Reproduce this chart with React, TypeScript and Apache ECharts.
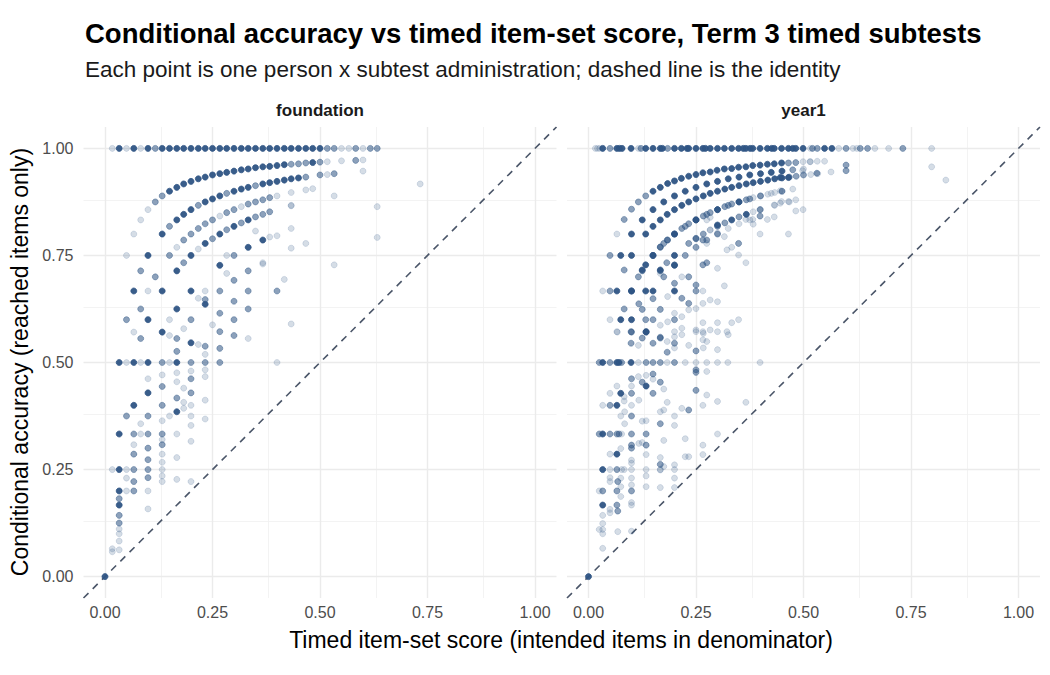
import React, { useEffect, useRef } from "react";
import * as echarts from "echarts";

// ---------- DATA ----------
// triples: [timed item-set score, conditional accuracy, overlap weight 1=light 2=medium 3=dark]
const foundationTopRow: [number, number, number][] = [
  [0.017, 1, 1], [0.033, 1, 3], [0.05, 1, 1], [0.067, 1, 3], [0.083, 1, 1], [0.1, 1, 3], [0.117, 1, 2],
  [0.133, 1, 3], [0.15, 1, 3], [0.167, 1, 3], [0.183, 1, 3], [0.2, 1, 3], [0.217, 1, 3], [0.233, 1, 3],
  [0.25, 1, 3], [0.267, 1, 3], [0.283, 1, 3], [0.3, 1, 3], [0.317, 1, 3], [0.333, 1, 3], [0.35, 1, 3],
  [0.367, 1, 3], [0.383, 1, 3], [0.4, 1, 3], [0.417, 1, 3], [0.433, 1, 3], [0.45, 1, 3], [0.467, 1, 3],
  [0.483, 1, 3], [0.5, 1, 3], [0.517, 1, 2], [0.533, 1, 2], [0.55, 1, 1], [0.567, 1, 1], [0.583, 1, 2],
  [0.6, 1, 1], [0.617, 1, 2], [0.633, 1, 2],
];

const foundationCurves: [number, number, number][] = [
  // one wrong
  [0.05, 0.75, 1], [0.067, 0.8, 1], [0.083, 0.833, 1], [0.1, 0.857, 1], [0.117, 0.875, 2], [0.133, 0.889, 2],
  [0.15, 0.9, 3], [0.167, 0.909, 3], [0.183, 0.917, 3], [0.2, 0.923, 3], [0.217, 0.929, 3], [0.233, 0.933, 3],
  [0.25, 0.938, 3], [0.267, 0.941, 3], [0.283, 0.944, 3], [0.3, 0.947, 3], [0.317, 0.95, 3], [0.333, 0.952, 3],
  [0.35, 0.955, 3], [0.367, 0.957, 3], [0.383, 0.958, 3], [0.4, 0.96, 3], [0.417, 0.962, 3], [0.433, 0.963, 2],
  [0.45, 0.964, 2], [0.467, 0.966, 2], [0.483, 0.967, 3], [0.5, 0.968, 2], [0.517, 0.969, 1], [0.55, 0.971, 1],
  [0.583, 0.972, 2], [0.6, 0.973, 1],
  // two wrong
  [0.067, 0.667, 3], [0.083, 0.714, 2], [0.1, 0.75, 3], [0.133, 0.8, 3], [0.15, 0.818, 2], [0.167, 0.833, 3],
  [0.183, 0.846, 3], [0.2, 0.857, 3], [0.217, 0.867, 2], [0.233, 0.875, 3], [0.25, 0.882, 3], [0.267, 0.889, 3],
  [0.283, 0.895, 2], [0.3, 0.9, 3], [0.317, 0.905, 3], [0.333, 0.909, 3], [0.35, 0.913, 2], [0.367, 0.917, 3],
  [0.383, 0.92, 3], [0.4, 0.923, 3], [0.417, 0.926, 3], [0.433, 0.929, 3], [0.45, 0.931, 3], [0.467, 0.933, 2],
  [0.5, 0.938, 2], [0.517, 0.939, 1], [0.533, 0.941, 2], [0.6, 0.947, 1],
  // three wrong
  [0.083, 0.625, 2], [0.1, 0.667, 1], [0.117, 0.7, 2], [0.15, 0.75, 2], [0.167, 0.769, 1], [0.183, 0.786, 2],
  [0.2, 0.8, 2], [0.217, 0.813, 2], [0.233, 0.824, 2], [0.25, 0.833, 2], [0.267, 0.842, 1], [0.283, 0.85, 2],
  [0.3, 0.857, 2], [0.317, 0.864, 1], [0.333, 0.87, 2], [0.35, 0.875, 2], [0.367, 0.88, 2], [0.383, 0.885, 2],
  [0.4, 0.889, 1], [0.433, 0.897, 1], [0.467, 0.903, 1], [0.483, 0.906, 1],
  // four wrong
  [0.1, 0.6, 3], [0.133, 0.667, 3], [0.167, 0.714, 3], [0.183, 0.733, 2], [0.2, 0.75, 3], [0.217, 0.765, 1],
  [0.233, 0.778, 3], [0.25, 0.789, 2], [0.267, 0.8, 3], [0.283, 0.81, 2], [0.3, 0.818, 3], [0.317, 0.826, 2],
  [0.333, 0.833, 3], [0.35, 0.84, 2], [0.367, 0.846, 2], [0.383, 0.852, 2], [0.433, 0.867, 1], [0.533, 0.889, 1],
];

const foundationScatter: [number, number, number][] = [
  [0.05, 0.6, 2], [0.067, 0.571, 1], [0.083, 0.556, 2], [0.133, 0.571, 3], [0.15, 0.563, 1], [0.15, 0.6, 1],
  [0.167, 0.625, 3], [0.167, 0.556, 2], [0.183, 0.579, 1], [0.2, 0.6, 2], [0.2, 0.667, 3], [0.2, 0.546, 3],
  [0.217, 0.65, 1], [0.217, 0.542, 1], [0.233, 0.667, 1], [0.233, 0.647, 2], [0.233, 0.636, 3], [0.25, 0.588, 1],
  [0.267, 0.667, 2], [0.267, 0.727, 3], [0.267, 0.615, 2], [0.267, 0.572, 2], [0.267, 0.533, 2], [0.283, 0.75, 1],
  [0.283, 0.708, 1], [0.3, 0.75, 2], [0.3, 0.692, 2], [0.3, 0.643, 2], [0.3, 0.6, 2], [0.3, 0.563, 2],
  [0.333, 0.769, 3], [0.333, 0.714, 2], [0.333, 0.667, 2], [0.333, 0.625, 2], [0.333, 0.556, 1], [0.35, 0.807, 1],
  [0.367, 0.786, 3], [0.367, 0.733, 1], [0.383, 0.793, 1], [0.367, 0.73, 1], [0.4, 0.667, 2], [0.4, 0.796, 1],
  [0.417, 0.694, 1], [0.433, 0.866, 1], [0.433, 0.813, 1], [0.433, 0.767, 1], [0.467, 0.778, 1], [0.533, 0.728, 1],
  [0.633, 0.864, 1], [0.633, 0.792, 1], [0.733, 0.917, 1], [0.4, 0.5, 1], [0.433, 0.59, 1],
  [0, 0, 3], [0.017, 0.25, 1], [0.017, 0.065, 1], [0.017, 0.058, 1],
  [0.033, 0.5, 3], [0.033, 0.333, 3], [0.033, 0.25, 3], [0.033, 0.2, 3], [0.033, 0.182, 2], [0.033, 0.167, 3],
  [0.033, 0.143, 2], [0.033, 0.125, 2], [0.033, 0.111, 1], [0.033, 0.1, 1], [0.033, 0.083, 1], [0.033, 0.0625, 1],
  [0.05, 0.5, 1], [0.05, 0.375, 2], [0.05, 0.25, 1], [0.05, 0.23, 1], [0.05, 0.2, 1],
  [0.067, 0.5, 3], [0.067, 0.4, 3], [0.067, 0.333, 2], [0.067, 0.308, 1], [0.067, 0.286, 2], [0.067, 0.25, 2],
  [0.067, 0.222, 2], [0.067, 0.2, 2],
  [0.083, 0.5, 1], [0.083, 0.357, 1], [0.083, 0.333, 1],
  [0.1, 0.5, 3], [0.1, 0.462, 1], [0.1, 0.429, 3], [0.1, 0.375, 2], [0.1, 0.333, 2], [0.1, 0.3, 2],
  [0.1, 0.273, 2], [0.1, 0.25, 2], [0.1, 0.231, 2], [0.1, 0.2, 1], [0.1, 0.158, 1],
  [0.133, 0.5, 2], [0.133, 0.471, 1], [0.133, 0.444, 2], [0.133, 0.4, 2], [0.133, 0.364, 1], [0.133, 0.333, 2],
  [0.133, 0.32, 1], [0.133, 0.308, 2], [0.133, 0.286, 1], [0.133, 0.267, 1], [0.133, 0.25, 1], [0.133, 0.235, 1],
  [0.133, 0.222, 1],
  [0.15, 0.5, 1], [0.15, 0.375, 1],
  [0.167, 0.526, 2], [0.167, 0.5, 3], [0.167, 0.476, 1], [0.167, 0.455, 1], [0.167, 0.417, 2], [0.167, 0.385, 3],
  [0.167, 0.333, 1], [0.167, 0.278, 1], [0.167, 0.227, 1],
  [0.183, 0.44, 1], [0.183, 0.407, 1], [0.183, 0.393, 1],
  [0.2, 0.5, 2], [0.2, 0.48, 1], [0.2, 0.462, 2], [0.2, 0.429, 2], [0.2, 0.4, 1], [0.2, 0.375, 1],
  [0.2, 0.353, 1], [0.2, 0.316, 1], [0.2, 0.222, 1],
  [0.233, 0.538, 2], [0.233, 0.519, 1], [0.233, 0.5, 2], [0.233, 0.483, 1], [0.233, 0.467, 1], [0.233, 0.412, 1],
  [0.233, 0.368, 1], [0.267, 0.5, 2],
];

const year1TopRow: [number, number, number][] = [
  [0.016, 1, 1], [0.021, 1, 1], [0.026, 1, 1], [0.033, 1, 3], [0.05, 1, 2], [0.066, 1, 3], [0.072, 1, 3],
  [0.078, 1, 3], [0.099, 1, 3], [0.116, 1, 1], [0.122, 1, 2], [0.133, 1, 3], [0.15, 1, 3], [0.167, 1, 3],
  [0.172, 1, 3], [0.184, 1, 2], [0.2, 1, 3], [0.216, 1, 3], [0.229, 1, 3], [0.233, 1, 3], [0.25, 1, 3],
  [0.266, 1, 3], [0.272, 1, 3], [0.283, 1, 3], [0.3, 1, 3], [0.316, 1, 3], [0.333, 1, 3], [0.349, 1, 3],
  [0.36, 1, 3], [0.366, 1, 3], [0.376, 1, 3], [0.382, 1, 3], [0.399, 1, 3], [0.416, 1, 3], [0.426, 1, 3],
  [0.432, 1, 3], [0.449, 1, 3], [0.465, 1, 3], [0.475, 1, 3], [0.482, 1, 3], [0.499, 1, 3], [0.516, 1, 1],
  [0.521, 1, 2], [0.532, 1, 2], [0.549, 1, 3], [0.566, 1, 3], [0.582, 1, 1], [0.599, 1, 2], [0.615, 1, 1],
  [0.624, 1, 1], [0.632, 1, 2], [0.649, 1, 2], [0.666, 1, 1], [0.698, 1, 1], [0.731, 1, 2], [0.798, 1, 1],
];

const year1Curves: [number, number, number][] = [
  // one wrong, 60-item sets
  [0.066, 0.8, 1], [0.083, 0.834, 2], [0.1, 0.858, 2], [0.116, 0.875, 2], [0.133, 0.889, 2], [0.15, 0.9, 3],
  [0.167, 0.909, 3], [0.184, 0.918, 3], [0.2, 0.924, 3], [0.216, 0.93, 3], [0.233, 0.935, 3], [0.25, 0.939, 3],
  [0.266, 0.943, 3], [0.283, 0.945, 3], [0.299, 0.949, 3], [0.316, 0.952, 3], [0.333, 0.953, 3], [0.349, 0.956, 3],
  [0.366, 0.957, 3], [0.382, 0.96, 3], [0.399, 0.961, 3], [0.416, 0.963, 3], [0.432, 0.964, 3], [0.449, 0.966, 3],
  [0.465, 0.966, 2], [0.482, 0.967, 2], [0.499, 0.969, 1], [0.516, 0.969, 1], [0.532, 0.97, 1], [0.549, 0.97, 1],
  [0.599, 0.961, 2], [0.798, 0.957, 1],
  // one wrong, 40-item sets
  [0.075, 0.75, 3], [0.1, 0.8, 3], [0.125, 0.833, 3], [0.15, 0.857, 3], [0.175, 0.875, 3], [0.2, 0.889, 3],
  [0.225, 0.9, 3], [0.25, 0.909, 3], [0.275, 0.917, 3], [0.3, 0.923, 3], [0.325, 0.929, 3], [0.35, 0.933, 3],
  [0.375, 0.938, 3], [0.4, 0.941, 3], [0.425, 0.944, 3], [0.45, 0.947, 3], [0.475, 0.95, 2], [0.5, 0.952, 1],
  [0.531, 0.942, 2], [0.564, 0.945, 1], [0.599, 0.948, 2],
  // two wrong, 60-item sets
  [0.133, 0.8, 3], [0.15, 0.818, 3], [0.167, 0.833, 3], [0.183, 0.846, 3], [0.2, 0.857, 3], [0.217, 0.867, 3],
  [0.233, 0.875, 3], [0.25, 0.882, 3], [0.267, 0.889, 3], [0.283, 0.895, 3], [0.3, 0.9, 3], [0.317, 0.905, 3],
  [0.333, 0.909, 3], [0.35, 0.913, 3], [0.367, 0.917, 3], [0.383, 0.92, 3], [0.4, 0.923, 3], [0.417, 0.926, 3],
  [0.433, 0.929, 3], [0.45, 0.931, 3], [0.467, 0.933, 2], [0.483, 0.935, 2], [0.5, 0.938, 2], [0.517, 0.939, 1],
  [0.533, 0.941, 1],
  // two wrong, 40-item sets
  [0.1, 0.667, 3], [0.125, 0.714, 2], [0.15, 0.75, 3], [0.175, 0.778, 2], [0.2, 0.8, 3], [0.225, 0.818, 2],
  [0.25, 0.833, 3], [0.275, 0.846, 2], [0.3, 0.857, 3], [0.325, 0.867, 2], [0.35, 0.875, 3], [0.375, 0.882, 2],
  [0.4, 0.889, 2], [0.425, 0.895, 1], [0.45, 0.9, 2], [0.475, 0.905, 1],
  // three wrong, 60-item sets
  [0.1, 0.667, 3], [0.15, 0.75, 3], [0.167, 0.769, 2], [0.183, 0.786, 2], [0.2, 0.8, 3], [0.217, 0.813, 2],
  [0.233, 0.824, 2], [0.25, 0.833, 3], [0.267, 0.842, 2], [0.283, 0.85, 2], [0.3, 0.857, 2], [0.317, 0.864, 2],
  [0.333, 0.87, 2], [0.35, 0.875, 2], [0.367, 0.88, 2], [0.383, 0.885, 1], [0.4, 0.889, 1], [0.417, 0.893, 1],
  [0.433, 0.897, 1], [0.45, 0.9, 1], [0.446, 0.932, 3], [0.465, 0.932, 3],
  // four wrong, 60-item sets
  [0.133, 0.667, 3], [0.167, 0.714, 2], [0.2, 0.75, 3], [0.233, 0.778, 2], [0.25, 0.789, 2], [0.267, 0.8, 2],
  [0.283, 0.81, 1], [0.3, 0.818, 2], [0.317, 0.826, 2], [0.333, 0.833, 3], [0.35, 0.84, 2], [0.367, 0.846, 3],
  [0.383, 0.852, 1], [0.4, 0.857, 1], [0.433, 0.867, 1], [0.467, 0.875, 1],
  // three wrong, 40-item sets
  [0.15, 0.667, 3], [0.175, 0.7, 2], [0.2, 0.727, 3], [0.225, 0.75, 2], [0.25, 0.769, 2], [0.275, 0.786, 2],
  [0.3, 0.8, 2], [0.325, 0.813, 1], [0.35, 0.824, 1], [0.375, 0.833, 1],
];

const year1Scatter: [number, number, number][] = [
  [0.05, 0.75, 2], [0.1, 0.75, 3],
  [0.033, 0.667, 1], [0.05, 0.667, 2], [0.066, 0.667, 3], [0.2, 0.667, 3], [0.25, 0.667, 2], [0.266, 0.667, 1],
  [0.05, 0.6, 1], [0.075, 0.6, 3], [0.1, 0.6, 3], [0.15, 0.6, 2], [0.2, 0.6, 2],
  [0.083, 0.716, 2], [0.125, 0.716, 3], [0.167, 0.716, 3], [0.116, 0.7, 2], [0.133, 0.728, 3], [0.117, 0.637, 2],
  [0.125, 0.624, 2], [0.083, 0.625, 2], [0.167, 0.624, 2], [0.217, 0.65, 2], [0.233, 0.638, 2], [0.25, 0.681, 2],
  [0.266, 0.728, 2], [0.275, 0.733, 2], [0.3, 0.72, 1], [0.316, 0.679, 1], [0.3, 0.642, 1], [0.266, 0.638, 1],
  [0.283, 0.646, 1], [0.3, 0.593, 1], [0.333, 0.593, 1], [0.349, 0.6, 1], [0.25, 0.79, 2], [0.266, 0.786, 2],
  [0.275, 0.778, 1], [0.283, 0.809, 1], [0.3, 0.821, 3], [0.3, 0.802, 1], [0.316, 0.794, 1], [0.322, 0.763, 1],
  [0.333, 0.769, 1], [0.349, 0.778, 2], [0.349, 0.751, 1], [0.366, 0.733, 1], [0.366, 0.834, 1], [0.383, 0.823, 1],
  [0.275, 0.833, 1], [0.283, 0.839, 1], [0.184, 0.786, 2], [0.167, 0.77, 2], [0.182, 0.733, 2], [0.2, 0.728, 2],
  [0.217, 0.7, 1], [0.233, 0.7, 2], [0.2, 0.685, 2], [0.184, 0.654, 1], [0.167, 0.708, 1], [0.15, 0.649, 2],
  [0.133, 0.6, 2], [0.167, 0.587, 1], [0.184, 0.595, 1], [0.2, 0.615, 1], [0.217, 0.607, 1], [0.233, 0.623, 1],
  [0.25, 0.626, 1], [0.266, 0.593, 1], [0.283, 0.576, 1], [0.217, 0.58, 1], [0.1, 0.571, 2], [0.067, 0.571, 1],
  [0.134, 0.571, 3], [0.167, 0.559, 2], [0.2, 0.56, 1], [0.25, 0.576, 1], [0.267, 0.568, 1],
  [0.432, 0.868, 1], [0.449, 0.876, 1], [0.465, 0.876, 1], [0.482, 0.88, 1], [0.499, 0.857, 1], [0.482, 0.854, 1],
  [0.399, 0.857, 2], [0.399, 0.842, 2], [0.382, 0.834, 1], [0.416, 0.834, 1], [0.432, 0.84, 1], [0.465, 0.8, 1],
  [0.399, 0.8, 1], [0.446, 0.901, 1], [0.446, 0.872, 1], [0.831, 0.926, 1], [0.498, 0.948, 1], [0.515, 0.969, 1],
  // lower region
  [0, 0, 3],
  [0.025, 0.5, 2], [0.033, 0.5, 3], [0.05, 0.5, 2], [0.066, 0.5, 3], [0.071, 0.5, 3], [0.077, 0.5, 2],
  [0.099, 0.5, 3], [0.116, 0.5, 1], [0.134, 0.5, 2], [0.15, 0.5, 2], [0.167, 0.5, 2], [0.183, 0.5, 1],
  [0.2, 0.5, 2], [0.225, 0.5, 1], [0.25, 0.5, 1], [0.275, 0.5, 1], [0.3, 0.5, 1], [0.324, 0.5, 1], [0.399, 0.5, 1],
  [0.066, 0.572, 1], [0.099, 0.572, 2], [0.134, 0.572, 3], [0.2, 0.572, 1], [0.25, 0.572, 1], [0.266, 0.572, 1],
  [0.3, 0.572, 1], [0.325, 0.565, 1], [0.125, 0.557, 2], [0.167, 0.557, 2], [0.099, 0.545, 2], [0.116, 0.54, 1],
  [0.15, 0.545, 2], [0.183, 0.549, 1], [0.2, 0.545, 2], [0.217, 0.565, 1], [0.233, 0.54, 1], [0.25, 0.527, 2],
  [0.266, 0.553, 1], [0.275, 0.549, 1], [0.3, 0.53, 1], [0.183, 0.524, 2], [0.2, 0.534, 1], [0.267, 0.534, 1],
  [0.322, 0.572, 1],
  [0.1, 0.462, 2], [0.1, 0.445, 1], [0.116, 0.467, 1], [0.125, 0.454, 2], [0.134, 0.445, 3], [0.15, 0.473, 2],
  [0.15, 0.461, 1], [0.15, 0.428, 2], [0.167, 0.454, 2], [0.175, 0.438, 1], [0.117, 0.412, 1], [0.134, 0.47, 1],
  [0.083, 0.42, 1], [0.1, 0.428, 2], [0.075, 0.428, 3], [0.066, 0.445, 1], [0.05, 0.428, 1], [0.033, 0.4, 1],
  [0.05, 0.4, 2], [0.066, 0.4, 3], [0.083, 0.41, 1], [0.1, 0.4, 1], [0.1, 0.375, 2], [0.075, 0.375, 1],
  [0.084, 0.385, 1], [0.084, 0.357, 1], [0.125, 0.363, 1], [0.134, 0.364, 1], [0.167, 0.357, 2], [0.167, 0.385, 1],
  [0.175, 0.389, 1], [0.183, 0.407, 1], [0.2, 0.375, 1], [0.2, 0.353, 1], [0.217, 0.393, 1], [0.233, 0.389, 2],
  [0.25, 0.435, 2], [0.25, 0.483, 2], [0.25, 0.477, 2], [0.275, 0.479, 1], [0.266, 0.4, 1], [0.275, 0.424, 1],
  [0.3, 0.409, 1], [0.366, 0.407, 1],
  [0.025, 0.333, 2], [0.033, 0.333, 3], [0.05, 0.333, 2], [0.066, 0.333, 2], [0.071, 0.333, 2], [0.077, 0.333, 1],
  [0.1, 0.333, 2], [0.134, 0.333, 2],
  [0.075, 0.299, 1], [0.1, 0.307, 2], [0.1, 0.3, 2], [0.117, 0.311, 1], [0.134, 0.307, 2], [0.125, 0.313, 1],
  [0.066, 0.286, 3], [0.05, 0.286, 1], [0.1, 0.272, 1], [0.1, 0.265, 1], [0.134, 0.285, 1], [0.167, 0.278, 1],
  [0.167, 0.262, 2], [0.167, 0.249, 1], [0.175, 0.257, 1], [0.175, 0.318, 1], [0.2, 0.261, 1], [0.225, 0.322, 1],
  [0.225, 0.28, 1], [0.233, 0.28, 1], [0.266, 0.307, 1], [0.266, 0.285, 1], [0.3, 0.333, 1],
  [0.033, 0.25, 3], [0.05, 0.25, 1], [0.066, 0.25, 2], [0.077, 0.25, 1], [0.083, 0.25, 1], [0.1, 0.25, 1],
  [0.134, 0.25, 1], [0.167, 0.25, 1], [0.2, 0.25, 1],
  [0.134, 0.235, 1], [0.134, 0.21, 1], [0.167, 0.208, 1], [0.2, 0.23, 1], [0.2, 0.208, 1], [0.1, 0.23, 1],
  [0.1, 0.214, 1], [0.075, 0.23, 1], [0.068, 0.222, 2], [0.05, 0.231, 1], [0.05, 0.222, 1], [0.075, 0.21, 1],
  [0.025, 0.2, 1], [0.033, 0.2, 2], [0.066, 0.2, 2], [0.1, 0.2, 2], [0.075, 0.187, 1],
  [0.033, 0.167, 3], [0.066, 0.167, 2], [0.1, 0.167, 1], [0.1, 0.173, 1], [0.068, 0.153, 2], [0.05, 0.157, 1],
  [0.05, 0.149, 1], [0.033, 0.143, 1], [0.033, 0.124, 1], [0.025, 0.11, 1], [0.033, 0.11, 1], [0.033, 0.1, 1],
  [0.033, 0.066, 1], [0.068, 0.105, 1], [0.1, 0.106, 1],
];

const tickValues = [0, 0.25, 0.5, 0.75, 1];
const minorValues = [0.125, 0.375, 0.625, 0.875];
const panelNames = ["foundation", "year1"];

// ---------- STYLE ----------
const FONT = "'Liberation Sans', Arial, Helvetica, sans-serif";
const POINT_RGB = "46,84,132";
const OPACITY = [0, 0.2, 0.55, 0.95];

function toItems(list: [number, number, number][]) {
  return list.map(([x, y, w]) => ({
    value: [x, y],
    itemStyle: {
      opacity: 1,
      color: `rgba(${POINT_RGB},${OPACITY[w]})`,
      borderColor: `rgba(${POINT_RGB},${OPACITY[w]})`,
      borderWidth: 0.8,
    },
  }));
}

function gridLines() {
  const major = { color: "#ebebeb", width: 1.4, type: "solid" };
  const minor = { color: "#f0f0f0", width: 0.8, type: "solid" };
  const data: any[] = [];
  minorValues.forEach((v) => {
    data.push({ xAxis: v, lineStyle: minor });
    data.push({ yAxis: v, lineStyle: minor });
  });
  tickValues.forEach((v) => {
    data.push({ xAxis: v, lineStyle: major });
    data.push({ yAxis: v, lineStyle: major });
  });
  return data;
}

export default function App() {
  const ref = useRef<HTMLDivElement>(null);

  useEffect(() => {
    document.body.style.margin = "0";
    if (!ref.current) return;
    const chart = echarts.init(ref.current, undefined, { renderer: "svg" });

    const panelLefts = [83.5, 567];
    const grids = panelLefts.map((l) => ({ left: l, top: 127, width: 473, height: 471 }));

    const labelStyle = {
      customValues: tickValues,
      formatter: (v: number) => v.toFixed(2),
      color: "#4d4d4d",
      fontSize: 16,
      fontFamily: FONT,
    };

    const xAxes = [0, 1].map((i) => ({
      type: "value",
      gridIndex: i,
      min: -0.05,
      max: 1.05,
      axisLine: { show: false },
      axisTick: { show: false },
      splitLine: { show: false },
      axisLabel: { ...labelStyle, margin: 6 },
    }));
    const yAxes = [0, 1].map((i) => ({
      type: "value",
      gridIndex: i,
      min: -0.05,
      max: 1.05,
      axisLine: { show: false },
      axisTick: { show: false },
      splitLine: { show: false },
      axisLabel: { ...labelStyle, show: i === 0, margin: 10 },
    }));

    const panels = [
      foundationTopRow.concat(foundationCurves, foundationScatter),
      year1TopRow.concat(year1Curves, year1Scatter),
    ];

    const series: any[] = [];
    panels.forEach((pts, i) => {
      series.push({
        type: "scatter",
        xAxisIndex: i,
        yAxisIndex: i,
        data: [],
        z: 0,
        silent: true,
        markLine: {
          z: 0,
          silent: true,
          symbol: ["none", "none"],
          label: { show: false },
          animation: false,
          data: gridLines(),
        },
      });
      series.push({
        type: "line",
        xAxisIndex: i,
        yAxisIndex: i,
        data: [[-0.05, -0.05], [1.05, 1.05]],
        showSymbol: false,
        silent: true,
        z: 1,
        lineStyle: { color: "#4a5568", width: 1.6, type: [7, 6] },
      });
      series.push({
        type: "scatter",
        xAxisIndex: i,
        yAxisIndex: i,
        symbolSize: 6,
        z: 3,
        itemStyle: { opacity: 1 },
        emphasis: { disabled: true },
        data: toItems(pts),
      });
    });

    chart.setOption({
      animation: false,
      backgroundColor: "#ffffff",
      grid: grids,
      xAxis: xAxes,
      yAxis: yAxes,
      series,
      graphic: [
        {
          type: "text",
          x: 85,
          y: 33,
          style: {
            text: "Conditional accuracy vs timed item-set score, Term 3 timed subtests",
            fontSize: 27.5,
            fontWeight: "bold",
            fontFamily: FONT,
            fill: "#000",
            verticalAlign: "middle",
          },
        },
        {
          type: "text",
          x: 85,
          y: 69,
          style: {
            text: "Each point is one person x subtest administration; dashed line is the identity",
            fontSize: 22.5,
            fontFamily: FONT,
            fill: "#1a1a1a",
            verticalAlign: "middle",
          },
        },
        ...panelNames.map((name, i) => ({
          type: "text",
          x: panelLefts[i] + 236.5,
          y: 110,
          style: {
            text: name,
            fontSize: 17,
            fontWeight: "bold",
            fontFamily: FONT,
            fill: "#1a1a1a",
            align: "center",
            verticalAlign: "middle",
          },
        })),
        {
          type: "text",
          x: 20,
          y: 362,
          rotation: Math.PI / 2,
          style: {
            text: "Conditional accuracy (reached items only)",
            fontSize: 23,
            fontFamily: FONT,
            fill: "#000",
            align: "center",
            verticalAlign: "middle",
          },
        },
        {
          type: "text",
          x: 561,
          y: 640,
          style: {
            text: "Timed item-set score (intended items in denominator)",
            fontSize: 23,
            fontFamily: FONT,
            fill: "#000",
            align: "center",
            verticalAlign: "middle",
          },
        },
      ],
    });

    return () => chart.dispose();
  }, []);

  return <div ref={ref} style={{ width: 1050, height: 675 }} />;
}
